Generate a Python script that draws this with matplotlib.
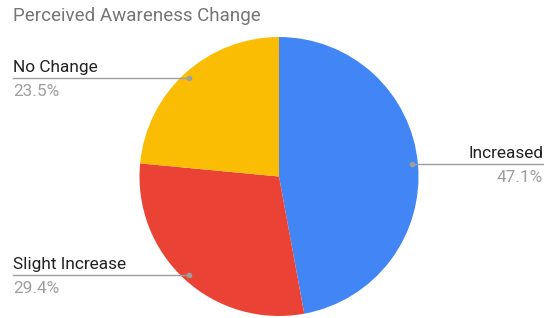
import matplotlib
matplotlib.use("Agg")
import matplotlib.pyplot as plt
import numpy as np

plt.rcParams["font.family"] = ["Roboto", "DejaVu Sans"]

W, H = 544, 318

TITLE = "Perceived Awareness Change"
categories = ["Increased", "Slight Increase", "No Change"]
shares = [47.1, 29.4, 23.5]
colors = ["#4285F4", "#EA4335", "#FBBC04"]

# pie geometry in pixel units
CX, CY, R = 279.0, 176.5, 139.5


def Y(y):
    return H - y


fig = plt.figure(figsize=(W / 100, H / 100), dpi=100)
fig.patch.set_facecolor("white")
ax = fig.add_axes([0, 0, 1, 1])

wedges, _ = ax.pie(shares, colors=colors, startangle=90, counterclock=False,
                   center=(CX, Y(CY)), radius=R, frame=True,
                   wedgeprops=dict(linewidth=0))
ax.set_xlim(0, W)
ax.set_ylim(0, H)
ax.set_aspect("auto")
ax.axis("off")

ax.text(13, Y(21), TITLE, fontsize=13.5, color="#757575",
        ha="left", va="baseline")

for w, cat, val in zip(wedges, categories, shares):
    mid = np.deg2rad((w.theta1 + w.theta2) / 2)
    dx = R * 0.955 * np.cos(mid)
    dy = R * 0.955 * np.sin(mid)
    px, py = CX + dx, Y(CY) + dy
    if dx > 0:
        x_end, ha, tx = W, "right", W - 1
    else:
        x_end, ha, tx = 13, "left", 13
    ax.plot([px, x_end], [py, py], color="#9E9E9E", lw=1.0, zorder=3)
    ax.plot(px, py, "o", color="#9E9E9E", markersize=3, zorder=4)
    ax.text(tx, py + 6, cat, fontsize=12.4, color="#222222",
            ha=ha, va="baseline")
    ax.text(tx, py - 18, f"{val}%", fontsize=12.4, color="#9E9E9E",
            ha=ha, va="baseline")

fig.savefig("out.png", dpi=100, facecolor="white")
